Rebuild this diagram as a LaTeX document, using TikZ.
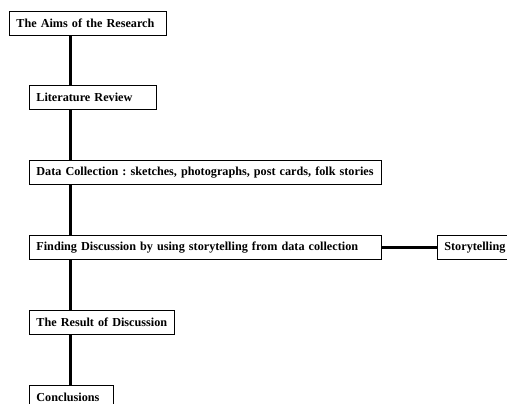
\documentclass[tikz,border=0pt]{standalone}
\usepackage{fontspec}
\setmainfont{Liberation Serif}
\usetikzlibrary{positioning,calc}
\frenchspacing

\begin{document}
\begin{tikzpicture}[x=1pt, y=-1pt,
    stage/.style={draw, line width=0.8pt, anchor=north west, minimum height=24pt, inner xsep=7pt, inner ysep=0pt, align=left, font=\fontsize{12.2}{14}\selectfont\bfseries},
    link/.style={line width=3pt}
]
    \useasboundingbox (0,0) rectangle (507,404);
    \clip (0,0) rectangle (507,404);
    \coordinate (spine) at (70,0);

    % Research stages
    \node[stage, text width=143pt] (aims) at (9,11) {The Aims of the Research};
    \node[stage, text width=113pt] (lit) at (29,85) {Literature Review};
    \node[stage, text width=338pt] (data) at (29,160) {\hbox{Data Collection : sketches, photographs, post cards, folk stories}};
    \node[stage, text width=338pt] (finding) at (29,235) {Finding Discussion by using storytelling from data collection};
    \node[stage, text width=80pt] (story) at (437,235) {Storytelling};
    \node[stage, text width=131pt] (result) at (29,310) {The Result of Discussion};
    \node[stage, text width=70pt] (concl) at (29,385) {Conclusions};

    % Spine on the left
    \draw[link] (aims.south -| spine) -- (lit.north -| spine);
    \draw[link] (lit.south -| spine) -- (data.north -| spine);
    \draw[link] (data.south -| spine) -- (finding.north -| spine);
    \draw[link] (finding.south -| spine) -- (result.north -| spine);
    \draw[link] (result.south -| spine) -- (concl.north -| spine);

    % Side branch
    \draw[link] (finding.east) -- (story.west);
\end{tikzpicture}
\end{document}
